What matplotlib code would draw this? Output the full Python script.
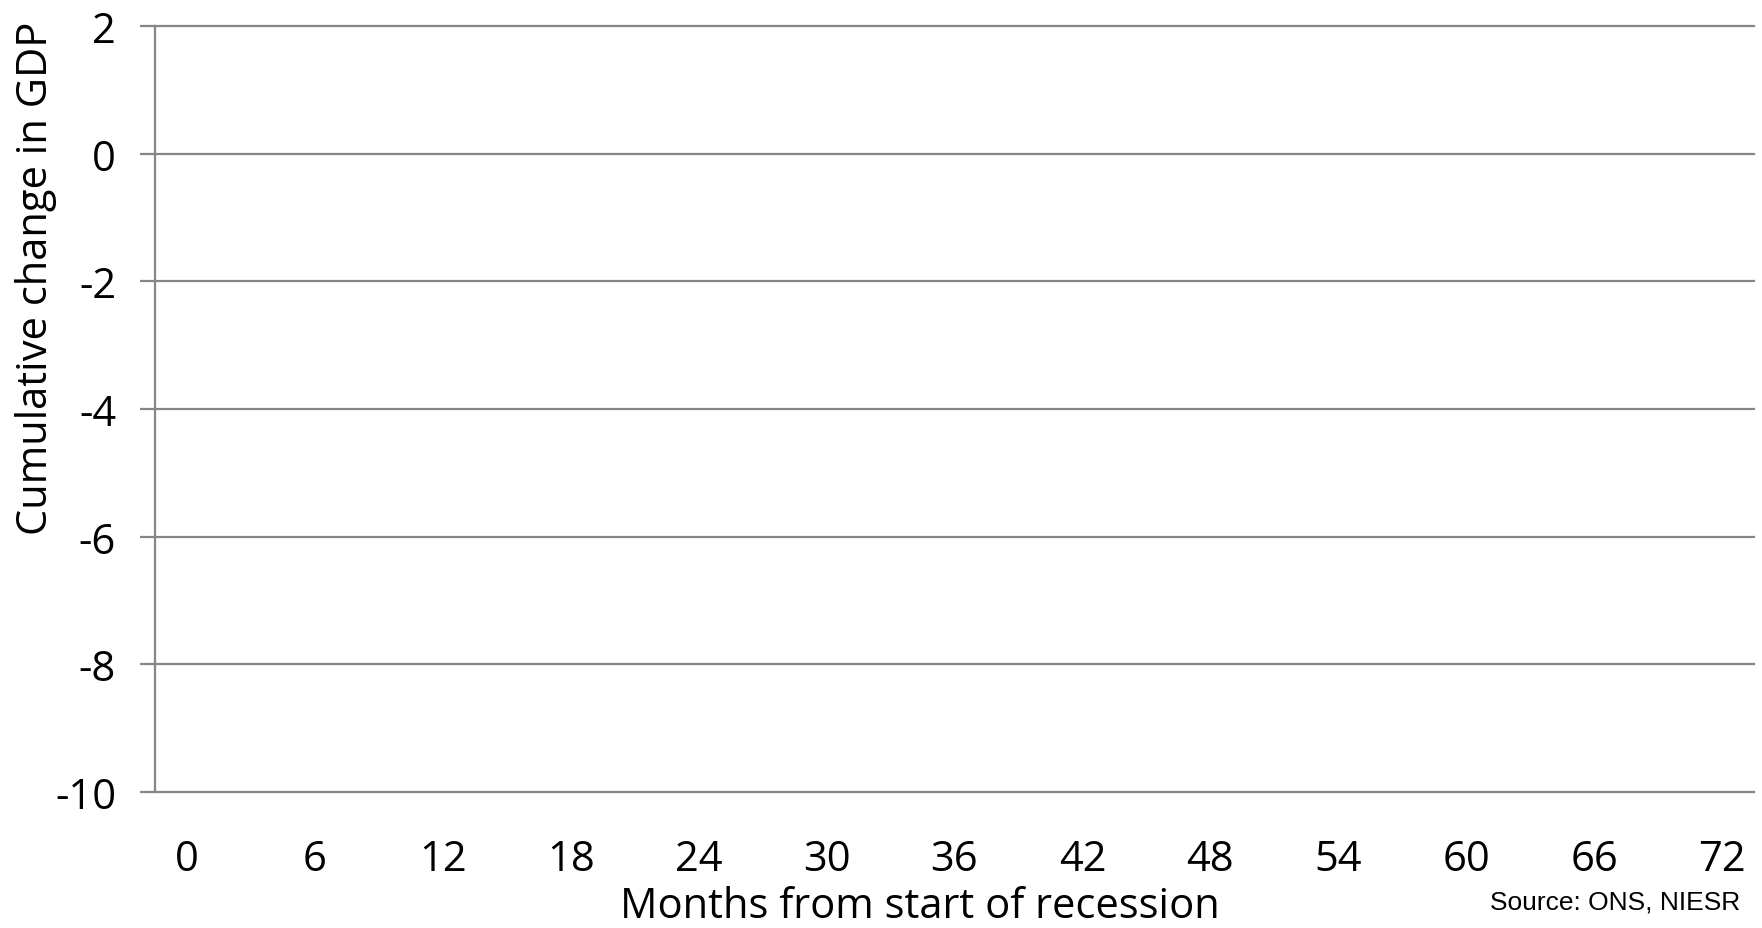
import matplotlib
matplotlib.use("Agg")
import matplotlib.pyplot as plt

# Data (the reference shows an empty chart frame: only axes and gridlines)
x_ticks = [0, 6, 12, 18, 24, 30, 36, 42, 48, 54, 60, 66, 72]
y_ticks = [2, 0, -2, -4, -6, -8, -10]
x_label = "Months from start of recession"
y_label = "Cumulative change in GDP"
source = "Source: ONS, NIESR"

W, H = 1762, 929
fig = plt.figure(figsize=(W / 100, H / 100), dpi=100)
ax = fig.add_axes([155 / W, 1 - 793 / H, (1754 - 155) / W, (793 - 27) / H])

grid_c = "#868686"
ax.set_xlim(-1.5, 73.5)
ax.set_ylim(-10, 2)
ax.set_yticks(y_ticks)
ax.set_xticks(x_ticks)
ax.set_xticklabels([str(v) for v in x_ticks])
ax.set_yticklabels([str(v) for v in y_ticks])

for y in y_ticks:
    ax.axhline(y, color=grid_c, lw=1.6, zorder=1, clip_on=False)

for s in ["top", "right", "bottom"]:
    ax.spines[s].set_visible(False)
ax.spines["left"].set_color(grid_c)
ax.spines["left"].set_linewidth(1.6)

font = "Open Sans"
ax.tick_params(axis="y", length=11, width=1.6, color=grid_c, pad=17,
               labelsize=30, labelfontfamily=font)
ax.tick_params(axis="x", length=0, pad=33, labelsize=30, labelfontfamily=font)

fig.text(36 / W, 1 - 278 / H, y_label, rotation=90, ha="center", va="center",
         fontsize=30, family=font)
fig.text(920 / W, 1 - 907 / H, x_label, ha="center", va="center",
         fontsize=30, family=font)
fig.text(1740 / W, 1 - 903 / H, source, ha="right", va="center",
         fontsize=19, family="Liberation Sans")

fig.savefig("out.png", dpi=100, facecolor="white")
